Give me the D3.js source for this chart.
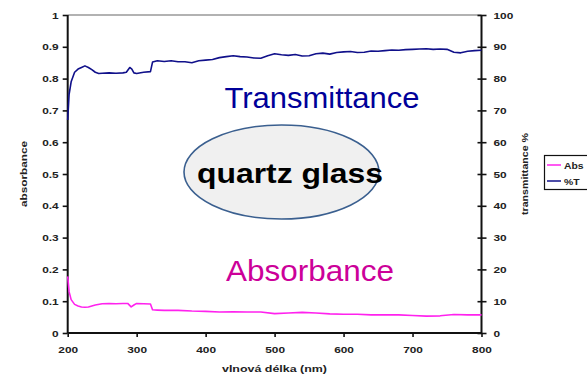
<!DOCTYPE html>
<html>
<head>
<meta charset="utf-8">
<script src="https://cdn.jsdelivr.net/npm/d3@7"></script>
<style>
  html, body { margin: 0; padding: 0; background: #fff; }
  svg { display: block; }
  text { font-family: Arial, "Liberation Sans", sans-serif; }
</style>
</head>
<body>
<svg id="chart" width="587" height="378"></svg>
<script>
// Wavelength (nm) and transmittance (%) of the quartz glass sample
const wavelengthT = [200, 202, 205, 210, 215, 220, 225, 230, 235, 240, 245, 250, 260, 270, 280, 285, 290, 293, 296, 300,
  310, 320, 323, 330, 340, 350, 360, 370, 380, 390, 400, 410, 420, 430, 440, 450, 460, 470, 480, 490,
  500, 510, 520, 530, 540, 550, 560, 570, 580, 590, 600, 610, 620, 630, 640, 650, 660, 670, 680, 690,
  700, 710, 720, 730, 740, 750, 760, 770, 780, 790, 800];
const transmittance = [67, 75, 79, 82, 83, 83.5, 84, 83.5, 82.8, 82, 81.6, 81.7, 81.8, 81.7, 81.8, 82, 83.5, 83, 81.8, 81.6,
  82, 82.2, 85.2, 85.6, 85.4, 85.6, 85.3, 85.3, 85, 85.6, 85.8, 86, 86.6, 86.9, 87.2, 86.9, 86.8, 86.5, 86.4, 87.2,
  87.8, 87.5, 87.3, 87.6, 87.1, 87.2, 87.8, 88, 87.7, 88.2, 88.4, 88.5, 88.2, 88.3, 88.7, 88.6, 88.8, 89, 88.9, 89.1,
  89.2, 89.3, 89.4, 89.2, 89.3, 89.2, 88.3, 88.1, 88.6, 88.8, 88.9];

// Wavelength (nm) and absorbance of the same sample
const wavelengthA = [200, 202, 205, 210, 215, 220, 225, 230, 240, 250, 260, 270, 280, 287, 292, 296, 300, 310, 320, 323,
  330, 340, 360, 380, 400, 420, 440, 460, 480, 500, 520, 540, 560, 580, 600, 620, 640, 660, 680, 700,
  720, 740, 760, 780, 800];
const absorbance = [0.178, 0.13, 0.105, 0.09, 0.085, 0.082, 0.081, 0.082, 0.088, 0.092, 0.093, 0.092, 0.093, 0.093, 0.082, 0.088, 0.093, 0.092, 0.091, 0.073,
  0.072, 0.071, 0.071, 0.069, 0.068, 0.066, 0.067, 0.066, 0.066, 0.061, 0.063, 0.065, 0.063, 0.06, 0.059, 0.059, 0.057, 0.057, 0.057, 0.055,
  0.053, 0.054, 0.058, 0.057, 0.057];

const xTicks = [200, 300, 400, 500, 600, 700, 800];
const leftTicks = [0, 0.1, 0.2, 0.3, 0.4, 0.5, 0.6, 0.7, 0.8, 0.9, 1];
const rightTicks = [0, 10, 20, 30, 40, 50, 60, 70, 80, 90, 100];
const legendLabels = ["Abs", "%T"];

const svg = d3.select("#chart");
const stretch = 1.25; // text in this chart is drawn horizontally widened

const x = d3.scaleLinear().domain([200, 800]).range([67.7, 481.5]);
const yL = d3.scaleLinear().domain([0, 1]).range([333, 15]);
const yR = d3.scaleLinear().domain([0, 100]).range([333, 15]);

function widen(sel, k) {
  sel.each(function () {
    const w = this.getComputedTextLength();
    d3.select(this).attr("textLength", w * k).attr("lengthAdjust", "spacingAndGlyphs");
  });
}

// plot frame: grey top edge
svg.append("line")
  .attr("x1", x(200)).attr("x2", x(800))
  .attr("y1", yL(1)).attr("y2", yL(1))
  .attr("stroke", "#999").attr("stroke-width", 1.3);

// left axis (absorbance)
const gL = svg.append("g").attr("transform", `translate(${x(200)},0)`)
  .call(d3.axisLeft(yL).tickValues(leftTicks).tickSize(5).tickPadding(4)
    .tickFormat(d => d === 0 || d === 1 ? d3.format("d")(d) : d3.format(".1f")(d)));

// right axis (transmittance), ticks crossing the axis line
const gR = svg.append("g").attr("transform", `translate(${x(800)},0)`)
  .call(d3.axisRight(yR).tickValues(rightTicks).tickSize(5).tickPadding(7).tickFormat(d3.format("d")));
gR.selectAll(".tick line").attr("x1", -4);

// bottom axis
const gB = svg.append("g").attr("transform", `translate(0,${yL(0)})`)
  .call(d3.axisBottom(x).tickValues(xTicks).tickSize(4).tickPadding(9).tickFormat(d3.format("d")));

[gL, gR, gB].forEach(g => {
  g.select(".domain").attr("stroke", "#111").attr("stroke-width", 2);
  g.selectAll(".tick line").attr("stroke", "#111").attr("stroke-width", 1.6);
  g.selectAll(".tick text").attr("fill", "#222").attr("font-size", 9.5)
    .attr("font-weight", "bold").attr("font-family", "Arial, 'Liberation Sans', sans-serif");
});
gL.select(".domain").attr("d", `M0,${yL(1)}V${yL(0)}`);
gR.select(".domain").attr("d", `M0,${yR(100)}V${yR(0)}`);
gB.select(".domain").attr("d", `M${x(200)},0H${x(800)}`);
gL.selectAll(".tick text").call(widen, stretch);
gR.selectAll(".tick text").call(widen, stretch);
gB.selectAll(".tick text").call(widen, stretch);

// data lines
const lineT = d3.line().x((d, i) => x(wavelengthT[i])).y(d => yR(d));
const lineA = d3.line().x((d, i) => x(wavelengthA[i])).y(d => yL(d));

svg.append("path").datum(transmittance)
  .attr("d", lineT).attr("fill", "none")
  .attr("stroke", "#10108a").attr("stroke-width", 1.6).attr("stroke-linejoin", "round");
svg.append("path").datum(absorbance)
  .attr("d", lineA).attr("fill", "none")
  .attr("stroke", "#ff22ee").attr("stroke-width", 1.6).attr("stroke-linejoin", "round");

// axis titles
svg.append("text")
  .attr("transform", `translate(27,174) rotate(-90)`)
  .attr("text-anchor", "middle").attr("font-size", 8.5).attr("font-weight", "bold").attr("fill", "#222")
  .text("absorbance").attr("textLength", 66).attr("lengthAdjust", "spacingAndGlyphs");
svg.append("text")
  .attr("transform", `translate(528,174) rotate(-90)`)
  .attr("text-anchor", "middle").attr("font-size", 8.5).attr("font-weight", "bold").attr("fill", "#222")
  .text("transmittance %").attr("textLength", 82).attr("lengthAdjust", "spacingAndGlyphs");
svg.append("text")
  .attr("x", 274.5).attr("y", 371.5)
  .attr("text-anchor", "middle").attr("font-size", 9).attr("font-weight", "bold").attr("fill", "#222")
  .text("vlnová délka (nm)").attr("textLength", 105).attr("lengthAdjust", "spacingAndGlyphs");

// annotations
svg.append("text")
  .attr("x", 322).attr("y", 108.3).attr("text-anchor", "middle")
  .attr("font-size", 30).attr("fill", "#000099")
  .text("Transmittance").attr("textLength", 195).attr("lengthAdjust", "spacingAndGlyphs");
svg.append("text")
  .attr("x", 310).attr("y", 280.7).attr("text-anchor", "middle")
  .attr("font-size", 30).attr("fill", "#cc0099")
  .text("Absorbance").attr("textLength", 168).attr("lengthAdjust", "spacingAndGlyphs");

svg.append("ellipse")
  .attr("cx", 281.5).attr("cy", 172).attr("rx", 97.5).attr("ry", 47)
  .attr("fill", "#f0f0f0").attr("stroke", "#3a5f8f").attr("stroke-width", 1.6);
svg.append("text")
  .attr("x", 290).attr("y", 183).attr("text-anchor", "middle")
  .attr("font-size", 28).attr("font-weight", "bold").attr("fill", "#000")
  .text("quartz glass").attr("textLength", 186).attr("lengthAdjust", "spacingAndGlyphs");

// legend
const lg = svg.append("g");
lg.append("rect").attr("x", 544.5).attr("y", 155.5).attr("width", 60).attr("height", 34)
  .attr("fill", "#fff").attr("stroke", "#111").attr("stroke-width", 1.2);
const legendColors = ["#ff22ee", "#10108a"];
legendLabels.forEach((lab, i) => {
  const yy = 165 + i * 16;
  lg.append("line").attr("x1", 547).attr("x2", 561).attr("y1", yy).attr("y2", yy)
    .attr("stroke", legendColors[i]).attr("stroke-width", 1.5);
  lg.append("text").attr("x", 564).attr("y", yy + 3.5)
    .attr("font-size", 9).attr("font-weight", "bold").attr("fill", "#222")
    .text(lab).call(widen, 1.15);
});
</script>
</body>
</html>
